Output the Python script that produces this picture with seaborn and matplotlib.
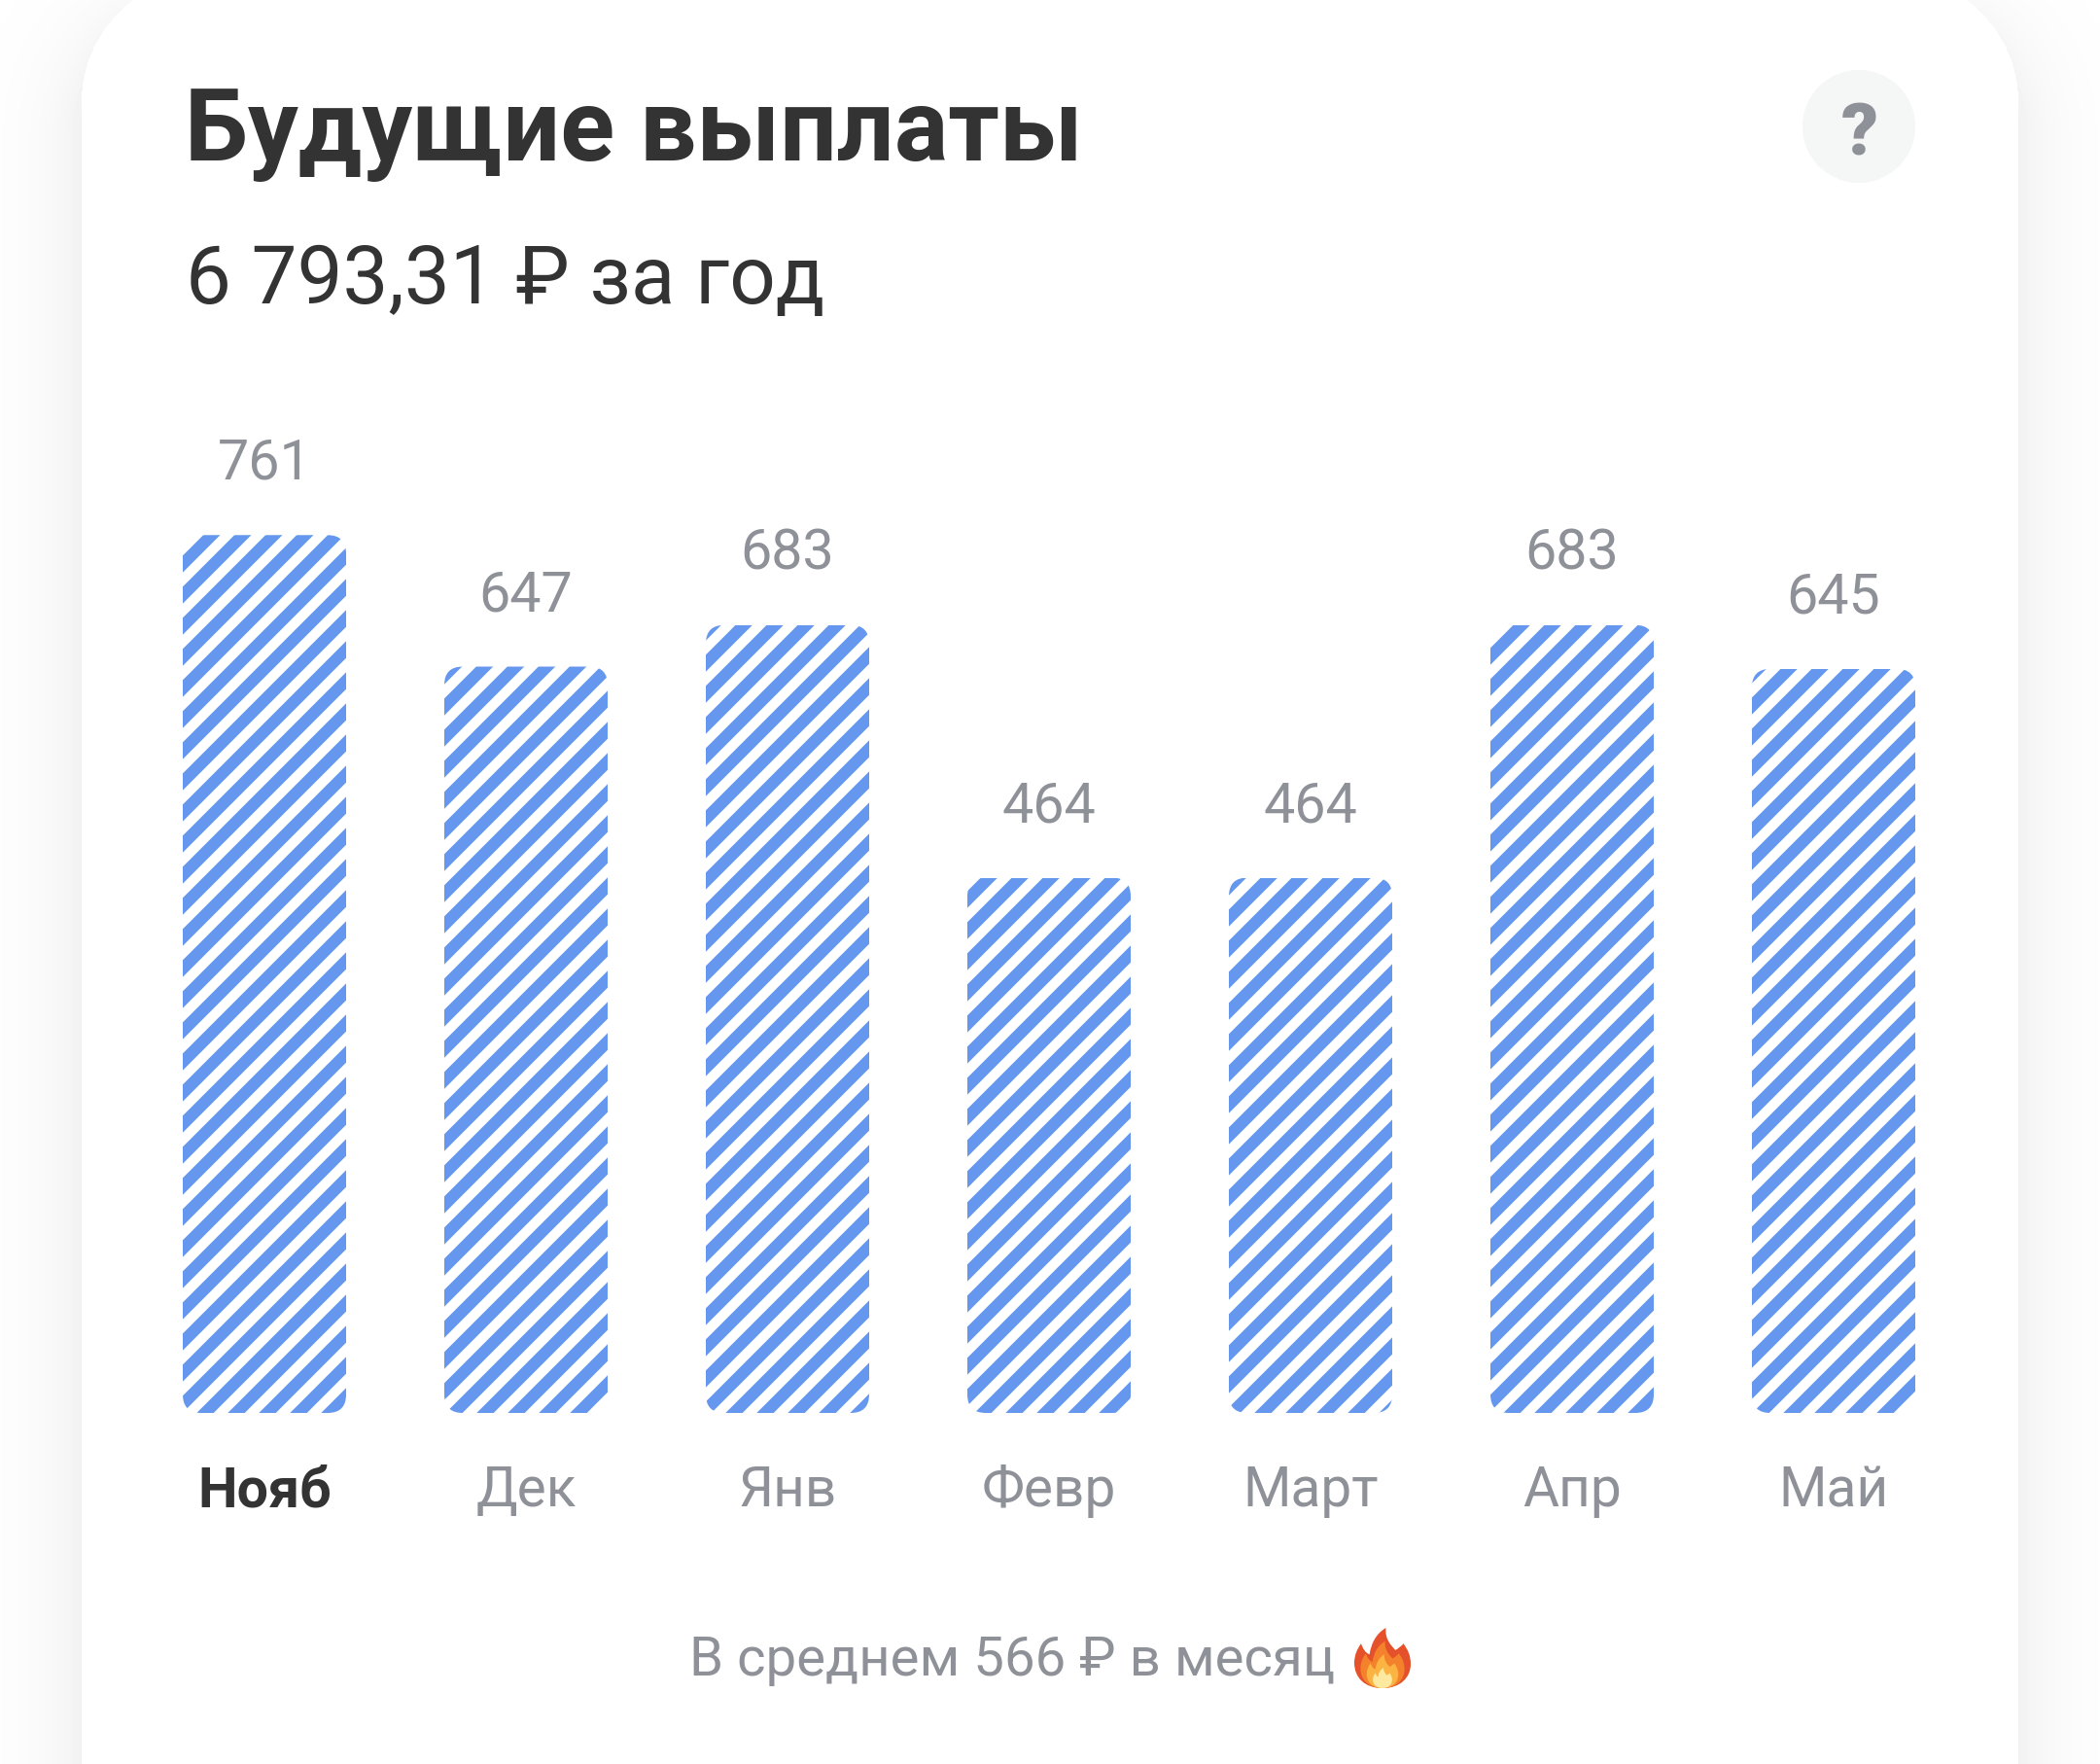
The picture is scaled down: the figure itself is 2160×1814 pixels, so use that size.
import numpy as np
import pandas as pd
import matplotlib
matplotlib.use("Agg")
import matplotlib.pyplot as plt
import seaborn as sns
from matplotlib.patches import FancyBboxPatch, Circle, PathPatch
from matplotlib.path import Path

# Data
months = ["Нояб", "Дек", "Янв", "Февр", "Март", "Апр", "Май"]
payouts = [761, 647, 683, 464, 464, 683, 645]
title = "Будущие выплаты"
subtitle = "6 793,31 ₽ за год"
footer = "В среднем 566 ₽ в месяц"

W, H = 2160, 1814
DPI = 192
GREY = "#8e9197"
DARK = "#333333"
BLUE = "#6597ee"

sns.set_theme(style="white")
plt.rcParams["font.family"] = ["Roboto", "DejaVu Sans"]
plt.rcParams["hatch.linewidth"] = 4.6

fig = plt.figure(figsize=(W / DPI, H / DPI), dpi=DPI, facecolor="white")

# Background: white card with a soft shadow, in pixel coordinates
bg = fig.add_axes([0, 0, 1, 1])
bg.set_xlim(0, W)
bg.set_ylim(H, 0)
bg.axis("off")


def card_dist(xx, yy, left, right, top, bottom, r):
    cx = (left + right) / 2
    cy = (top + bottom) / 2
    qx = np.abs(xx - cx) - (right - left) / 2 + r
    qy = np.abs(yy - cy) - (bottom - top) / 2 + r
    return np.hypot(np.maximum(qx, 0), np.maximum(qy, 0)) + np.minimum(np.maximum(qx, qy), 0) - r


xx, yy = np.meshgrid(np.arange(W) + 0.5, np.arange(H) + 0.5)
card = card_dist(xx, yy, 84, 2076, -25, 2200, 130)
shadow = card_dist(xx, yy, 84, 2076, 10, 2200, 130)
shade = 255 - 14 * np.exp(-np.maximum(shadow, 0) / 42)
shade = np.where(card <= 0, 255, shade)
bg.imshow(shade, cmap="gray", vmin=0, vmax=255, extent=(0, W, H, 0), aspect="auto", interpolation="nearest")
bg.set_xlim(0, W)
bg.set_ylim(H, 0)

# Header
bg.text(190, 165, title, fontsize=38.8, fontweight="bold", color=DARK, va="baseline", ha="left")
bg.text(191, 312, subtitle, fontsize=31.3, color=DARK, va="baseline", ha="left")
bg.add_patch(Circle((1912, 130), 58, facecolor="#f5f6f6", edgecolor="none"))
bg.text(1913, 160, "?", fontsize=28, fontweight=900, color="#8e9198", va="baseline", ha="center")

# Footer
bg.text(709, 1723, footer, fontsize=21.15, color=GREY, va="baseline", ha="left")


def flame(x0, y0, w, h, scale, color):
    # flame outline on a unit box, shrunk towards the bottom middle
    pts = [
        (0.50, 1.00),
        (0.18, 1.00), (0.00, 0.82), (0.00, 0.58),
        (0.00, 0.44), (0.06, 0.34), (0.12, 0.26),
        (0.15, 0.34), (0.20, 0.42), (0.27, 0.44),
        (0.30, 0.26), (0.38, 0.10), (0.56, 0.00),
        (0.54, 0.18), (0.64, 0.28), (0.73, 0.37),
        (0.78, 0.34), (0.84, 0.30), (0.87, 0.26),
        (0.95, 0.36), (1.00, 0.46), (1.00, 0.60),
        (1.00, 0.82), (0.82, 1.00), (0.50, 1.00),
    ]
    codes = [Path.MOVETO] + [Path.CURVE4] * (len(pts) - 1)
    verts = [(x0 + w * (0.5 + (px - 0.5) * scale), y0 + h * (1 - (1 - py) * scale)) for px, py in pts]
    bg.add_patch(PathPatch(Path(verts, codes), facecolor=color, edgecolor="none"))


for s, c in zip([1.0, 0.78, 0.56, 0.34], ["#e4512a", "#f4812c", "#fbb342", "#fde9a0"]):
    flame(1393, 1674, 58, 62, s, c)

# Bars
ax = fig.add_axes([137.5 / W, (H - 1453) / H, (2020.5 - 137.5) / W, 949 / H])
ax.patch.set_alpha(0)
df = pd.DataFrame({"month": months, "payout": payouts})
sns.barplot(data=df, x="month", y="payout", width=0.6245, ax=ax, color=BLUE)
ax.set_xlim(-0.5, 6.5)
ax.set_ylim(0, 800)
ax.set_xlabel("")
ax.set_ylabel("")
ax.set_yticks([])
sns.despine(ax=ax, left=True, bottom=True)

ax.bar_label(ax.containers[0], labels=[str(v) for v in payouts], padding=17, fontsize=21.5, color=GREY)

ax.tick_params(axis="x", length=0, pad=20, labelsize=21.3, labelcolor=GREY)
ax.get_xticklabels()[0].set_fontweight("bold")
ax.get_xticklabels()[0].set_fontsize(21.5)
ax.get_xticklabels()[0].set_color(DARK)

# Striped fill with rounded corners
fig.canvas.draw()
for bar in ax.patches:
    box = bar.get_window_extent()
    bar.set_facecolor("white")
    bar.set_edgecolor(BLUE)
    bar.set_hatch("//")
    bar.set_linewidth(0)
    rounded = FancyBboxPatch((box.x0, box.y0), box.width, box.height,
                             boxstyle="round,pad=0,rounding_size=19")
    bar.set_clip_path(rounded)

fig.savefig("out.png", dpi=DPI)
